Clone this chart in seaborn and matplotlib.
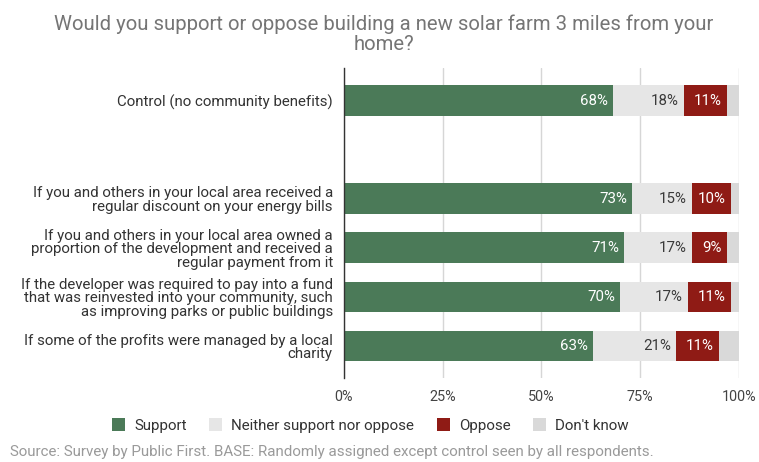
import matplotlib
matplotlib.use("Agg")
import matplotlib.pyplot as plt
from matplotlib.patches import Patch
import seaborn as sns
import pandas as pd

# Survey rows (empty string = spacer row between control and treatments)
categories = [
    "Control (no community benefits)",
    "",
    "If you and others in your local area received a\nregular discount on your energy bills",
    "If you and others in your local area owned a\nproportion of the development and received a\nregular payment from it",
    "If the developer was required to pay into a fund\nthat was reinvested into your community, such\nas improving parks or public buildings",
    "If some of the profits were managed by a local\ncharity",
]
support = [68, None, 73, 71, 70, 63]
neither = [18, None, 15, 17, 17, 21]
oppose = [11, None, 10, 9, 11, 11]
dont_know = [3, None, 2, 3, 2, 5]

series_names = ["Support", "Neither support nor oppose", "Oppose", "Don't know"]
colors = ["#4b7a58", "#e6e6e6", "#8f1b15", "#d9d9d9"]
label_colors = ["white", "#3a3a3a", "white", None]

sns.set_theme(style="white")
plt.rcParams["font.family"] = ["Roboto", "DejaVu Sans"]

rows = [c for c, s in zip(categories, support) if s is not None]
df = pd.DataFrame({
    "category": rows,
    "Support": [v for v in support if v is not None],
    "Neither support nor oppose": [v for v in neither if v is not None],
    "Oppose": [v for v in oppose if v is not None],
    "Don't know": [v for v in dont_know if v is not None],
})
cum = df[series_names].cumsum(axis=1)

fig, ax = plt.subplots(figsize=(7.59, 4.62), dpi=100)
fig.subplots_adjust(left=0.4532, right=0.9736, top=0.853, bottom=0.182)

# draw cumulative stacks from the largest total down so each segment shows
for name, col in reversed(list(zip(series_names, colors))):
    sns.barplot(data=cum.assign(category=df["category"]), x=name, y="category",
                order=categories, orient="h", color=col, width=0.63,
                saturation=1, ax=ax, linewidth=0)

# value labels right-aligned inside the end of each segment
for i, row in df.iterrows():
    ypos = categories.index(row["category"])
    end = 0
    for name, lc in zip(series_names, label_colors):
        end += row[name]
        if lc is None:
            continue
        ax.text(end - 1.3, ypos, f"{row[name]}%", ha="right", va="center",
                color=lc, fontsize=10.8)

ax.set_xlim(0, 100)
ax.set_ylim(5.65, -0.67)
ax.set_xticks([0, 25, 50, 75, 100])
ax.set_xticklabels(["0%", "25%", "50%", "75%", "100%"], color="#444444", fontsize=10.4)
ax.set_yticks(range(len(categories)))
ax.set_yticklabels(categories, color="#333333", fontsize=10.8, linespacing=0.98)
ax.tick_params(axis="x", length=0, pad=9)
ax.tick_params(axis="y", length=0, pad=8)
ax.set_xlabel("")
ax.set_ylabel("")
ax.set_axisbelow(True)
ax.grid(axis="x", color="#d6d6d6", linewidth=1)
for s in ["top", "right", "bottom"]:
    ax.spines[s].set_visible(False)
ax.spines["left"].set_color("#333333")
ax.spines["left"].set_linewidth(1)
ax.spines["left"].set_zorder(5)

fig.suptitle("Would you support or oppose building a new solar farm 3 miles from your\nhome?",
             x=0.506, y=0.968, fontsize=14.6, color="#757575", linespacing=1.05)

handles = [Patch(facecolor=c, edgecolor="none") for c in colors]
fig.legend(handles, series_names, loc="center", bbox_to_anchor=(0.488, 0.08), ncol=4,
           frameon=False, fontsize=10.9, handlelength=0.85, handleheight=1.0,
           handletextpad=0.6, columnspacing=1.5, labelcolor="#333333")

fig.text(0.013, 0.022, "Source: Survey by Public First. BASE: Randomly assigned except control seen by all respondents.",
         fontsize=10.9, color="#9a9a9a", ha="left", va="center")

fig.savefig("out.png", dpi=100)
